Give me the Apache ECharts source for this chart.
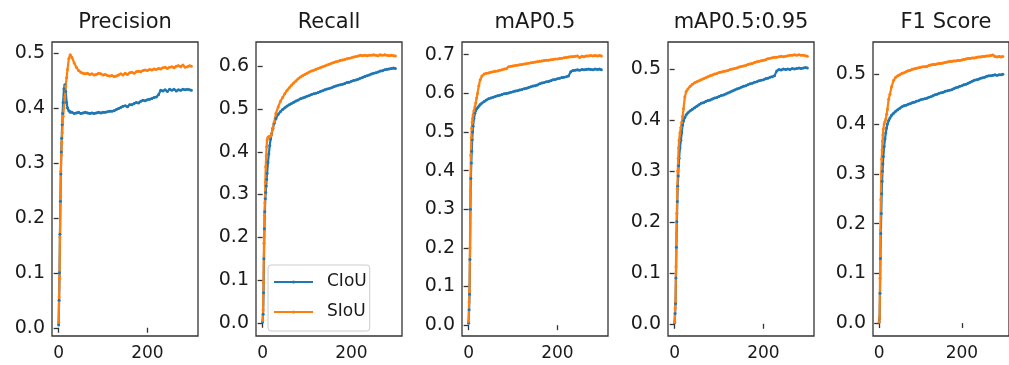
<!DOCTYPE html>
<html>
<head>
<meta charset="utf-8">
<script src="https://cdn.jsdelivr.net/npm/echarts@6/dist/echarts.min.js"></script>
<style>
html,body{margin:0;padding:0;background:#fff;}
#chart{width:1009px;height:365px;}
</style>
</head>
<body>
<div id="chart"></div>
<script>
// ---------- DATA ----------
const epochs = [0,1,2,3,4,5,6,7,8,9,10,
  12,14,16,18,20,23,26,
  30,35,40,45,50,55,60,65,70,75,
  80,85,90,95,100,105,110,115,120,125,
  130,135,140,145,150,155,160,165,170,175,
  180,185,190,195,200,205,210,215,220,225,
  230,235,240,245,250,255,260,265,270,275,
  280,285,290,295,299];

const titles = ['Precision','Recall','mAP0.5','mAP0.5:0.95','F1 Score'];
const seriesNames = ['CIoU','SIoU'];

const precisionCIoU = [0.005,0.05,0.10,0.17,0.23,0.28,0.32,0.345,0.37,0.39,0.41,
  0.435,0.442,0.43,0.41,0.40,0.395,0.392,
  0.392,0.390,0.391,0.392,0.390,0.391,0.392,0.391,0.390,0.391,
  0.390,0.391,0.392,0.391,0.392,0.392,0.393,0.394,0.394,0.395,
  0.397,0.399,0.401,0.403,0.404,0.402,0.406,0.406,0.408,0.410,
  0.409,0.412,0.414,0.413,0.415,0.416,0.417,0.419,0.420,0.424,
  0.432,0.431,0.433,0.430,0.434,0.432,0.434,0.431,0.433,0.432,
  0.434,0.433,0.434,0.433,0.432];
const precisionSIoU = [0.01,0.056,0.09,0.165,0.24,0.285,0.315,0.336,0.355,0.373,0.385,
  0.40,0.42,0.44,0.455,0.47,0.49,0.497,
  0.492,0.482,0.474,0.468,0.465,0.463,0.462,0.463,0.461,0.462,
  0.460,0.461,0.463,0.462,0.460,0.461,0.459,0.458,0.459,0.457,
  0.458,0.460,0.462,0.460,0.463,0.461,0.464,0.465,0.463,0.466,
  0.467,0.466,0.468,0.469,0.468,0.470,0.469,0.471,0.470,0.472,
  0.471,0.473,0.474,0.472,0.474,0.475,0.473,0.476,0.477,0.475,
  0.478,0.474,0.475,0.477,0.476];

const recallCIoU = [0.002,0.02,0.07,0.15,0.22,0.26,0.29,0.305,0.32,0.335,0.35,
  0.375,0.395,0.415,0.43,0.44,0.455,0.467,
  0.478,0.488,0.494,0.499,0.503,0.507,0.51,0.513,0.516,0.519,
  0.521,0.524,0.526,0.528,0.53,0.532,0.534,0.536,0.537,0.539,
  0.541,0.543,0.545,0.547,0.548,0.55,0.552,0.554,0.556,0.557,
  0.558,0.56,0.562,0.563,0.565,0.567,0.568,0.57,0.572,0.574,
  0.576,0.578,0.58,0.582,0.584,0.585,0.587,0.589,0.59,0.592,
  0.593,0.594,0.595,0.596,0.595];
const recallSIoU = [0.005,0.03,0.094,0.186,0.252,0.28,0.33,0.365,0.39,0.412,0.428,
  0.434,0.436,0.435,0.437,0.44,0.455,0.47,
  0.49,0.505,0.518,0.527,0.536,0.544,0.55,0.556,0.561,0.566,
  0.571,0.575,0.578,0.581,0.584,0.587,0.589,0.591,0.593,0.595,
  0.597,0.599,0.601,0.603,0.605,0.607,0.609,0.611,0.612,0.614,
  0.615,0.616,0.618,0.619,0.62,0.622,0.623,0.624,0.626,0.625,
  0.626,0.625,0.626,0.626,0.627,0.626,0.625,0.627,0.626,0.627,
  0.626,0.625,0.626,0.625,0.624];

const map50CIoU = [0.005,0.04,0.08,0.17,0.3,0.38,0.42,0.45,0.48,0.5,0.515,
  0.535,0.548,0.555,0.56,0.563,0.567,0.571,
  0.575,0.579,0.583,0.586,0.588,0.59,0.592,0.594,0.595,0.597,
  0.599,0.6,0.601,0.603,0.604,0.606,0.607,0.609,0.61,0.612,
  0.613,0.615,0.617,0.619,0.62,0.622,0.625,0.627,0.628,0.63,
  0.631,0.633,0.635,0.636,0.638,0.639,0.641,0.642,0.643,0.645,
  0.656,0.659,0.66,0.661,0.66,0.662,0.661,0.662,0.663,0.662,
  0.661,0.663,0.662,0.663,0.661];
const map50SIoU = [0.01,0.06,0.09,0.2,0.35,0.44,0.485,0.51,0.525,0.535,0.545,
  0.555,0.565,0.575,0.588,0.6,0.62,0.635,
  0.645,0.65,0.652,0.653,0.655,0.656,0.657,0.658,0.66,0.661,
  0.663,0.664,0.669,0.67,0.671,0.672,0.673,0.674,0.675,0.676,
  0.677,0.678,0.679,0.68,0.681,0.682,0.683,0.684,0.685,0.686,
  0.686,0.687,0.688,0.689,0.689,0.69,0.691,0.692,0.693,0.694,
  0.695,0.695,0.696,0.697,0.693,0.696,0.695,0.697,0.697,0.698,
  0.697,0.698,0.697,0.698,0.697];

const map5095CIoU = [0.002,0.02,0.04,0.09,0.15,0.2,0.24,0.27,0.29,0.31,0.325,
  0.345,0.36,0.375,0.39,0.398,0.405,0.41,
  0.414,0.418,0.421,0.424,0.427,0.43,0.433,0.434,0.436,0.438,
  0.439,0.441,0.443,0.444,0.446,0.448,0.449,0.451,0.453,0.455,
  0.457,0.459,0.461,0.462,0.464,0.466,0.467,0.469,0.471,0.472,
  0.474,0.475,0.477,0.478,0.479,0.481,0.482,0.484,0.485,0.487,
  0.496,0.499,0.498,0.5,0.499,0.5,0.499,0.501,0.5,0.501,
  0.502,0.501,0.502,0.503,0.502];
const map5095SIoU = [0.003,0.03,0.044,0.112,0.178,0.217,0.266,0.3,0.325,0.345,0.36,
  0.375,0.385,0.395,0.407,0.422,0.445,0.456,
  0.461,0.466,0.47,0.473,0.475,0.477,0.479,0.481,0.483,0.485,
  0.487,0.488,0.49,0.491,0.493,0.494,0.495,0.496,0.497,0.499,
  0.5,0.501,0.502,0.504,0.505,0.506,0.507,0.509,0.51,0.511,
  0.513,0.514,0.515,0.516,0.517,0.518,0.52,0.521,0.522,0.523,
  0.523,0.524,0.525,0.524,0.525,0.526,0.527,0.527,0.528,0.527,
  0.528,0.527,0.527,0.526,0.525];

const f1CIoU = [0.002,0.01,0.06,0.13,0.18,0.22,0.26,0.285,0.305,0.32,0.335,
  0.355,0.37,0.382,0.392,0.4,0.407,0.412,
  0.418,0.422,0.426,0.429,0.432,0.435,0.437,0.438,0.44,0.441,
  0.443,0.444,0.446,0.447,0.449,0.45,0.451,0.452,0.454,0.455,
  0.457,0.459,0.46,0.462,0.463,0.464,0.466,0.467,0.468,0.469,
  0.471,0.473,0.474,0.476,0.477,0.479,0.48,0.482,0.484,0.486,
  0.488,0.489,0.49,0.492,0.493,0.494,0.496,0.497,0.497,0.498,
  0.499,0.498,0.499,0.499,0.5];
const f1SIoU = [0.002,0.01,0.09,0.187,0.248,0.3,0.33,0.348,0.365,0.378,0.39,
  0.4,0.405,0.41,0.42,0.43,0.45,0.46,
  0.475,0.488,0.494,0.497,0.499,0.502,0.503,0.505,0.507,0.508,
  0.51,0.511,0.512,0.513,0.514,0.515,0.515,0.516,0.518,0.519,
  0.52,0.52,0.521,0.522,0.522,0.523,0.524,0.525,0.526,0.526,
  0.527,0.527,0.528,0.528,0.529,0.53,0.531,0.532,0.532,0.533,
  0.533,0.534,0.535,0.535,0.536,0.536,0.537,0.537,0.538,0.539,
  0.536,0.535,0.536,0.535,0.536];

const xTicks = [0, 200];
const yTicks1 = [0, 0.1, 0.2, 0.3, 0.4, 0.5];
const yTicks2 = [0, 0.1, 0.2, 0.3, 0.4, 0.5, 0.6];
const yTicks3 = [0, 0.1, 0.2, 0.3, 0.4, 0.5, 0.6, 0.7];
const yTicks4 = [0, 0.1, 0.2, 0.3, 0.4, 0.5];
const yTicks5 = [0, 0.1, 0.2, 0.3, 0.4, 0.5];

// ---------- LAYOUT / STYLE ----------
const panels = [
  {ciou: precisionCIoU, siou: precisionSIoU, yTicks: yTicks1, yMin: -0.015, yMax: 0.52},
  {ciou: recallCIoU, siou: recallSIoU, yTicks: yTicks2, yMin: -0.031, yMax: 0.657},
  {ciou: map50CIoU, siou: map50SIoU, yTicks: yTicks3, yMin: -0.028, yMax: 0.733},
  {ciou: map5095CIoU, siou: map5095SIoU, yTicks: yTicks4, yMin: -0.024, yMax: 0.553},
  {ciou: f1CIoU, siou: f1SIoU, yTicks: yTicks5, yMin: -0.026, yMax: 0.565}
];
const lefts = [52, 256, 462, 668, 873];
const W = 146, TOP = 42, H = 294;
const colors = ['#1f77b4', '#ff7f0e'];
const FONT = 'DejaVu Sans';
const axisColor = '#333';
const textColor = '#1a1a1a';

const grids = [], xAxes = [], yAxes = [], series = [], titleArr = [];
panels.forEach((p, i) => {
  grids.push({left: lefts[i], top: TOP, width: W, height: H, show: true,
    borderColor: axisColor, borderWidth: 1.3, backgroundColor: 'transparent'});
  titleArr.push({text: titles[i], left: lefts[i] + W / 2, top: 12, textAlign: 'center', padding: 0,
    textStyle: {fontFamily: FONT, fontSize: 21, fontWeight: 'normal', color: textColor}});
  xAxes.push({type: 'value', gridIndex: i, min: -14.95, max: 313.95,
    splitLine: {show: false}, axisLine: {show: false},
    axisTick: {show: true, inside: false, length: 5, customValues: xTicks, lineStyle: {color: axisColor, width: 1.3}},
    axisLabel: {customValues: xTicks, margin: 9, fontFamily: FONT, fontSize: 17, color: textColor,
      formatter: v => String(Math.round(v))}});
  yAxes.push({type: 'value', gridIndex: i, min: p.yMin, max: p.yMax,
    splitLine: {show: false}, axisLine: {show: false},
    axisTick: {show: true, inside: false, length: 5, customValues: p.yTicks, lineStyle: {color: axisColor, width: 1.3}},
    axisLabel: {customValues: p.yTicks, margin: 7, fontFamily: FONT, fontSize: 19, color: textColor,
      formatter: v => v.toFixed(1)}});
  [p.ciou, p.siou].forEach((arr, k) => {
    series.push({
      name: seriesNames[k], type: 'line', xAxisIndex: i, yAxisIndex: i,
      data: epochs.map((e, j) => [e, arr[j]]),
      symbol: 'circle', symbolSize: 3, showSymbol: true, showAllSymbol: true,
      lineStyle: {width: 2.2, color: colors[k]},
      itemStyle: {color: colors[k]},
      emphasis: {disabled: true},
      animation: false
    });
  });
});

const chart = echarts.init(document.getElementById('chart'), null, {renderer: 'canvas'});
chart.setOption({
  backgroundColor: '#fff',
  animation: false,
  title: titleArr,
  legend: {
    data: seriesNames, orient: 'vertical', left: 268, top: 265,
    padding: [7, 3, 9, 5], itemGap: 10, itemWidth: 39, itemHeight: 4,
    backgroundColor: '#fff', borderColor: '#ccc', borderWidth: 1, borderRadius: 3,
    textStyle: {fontFamily: FONT, fontSize: 17, color: textColor, lineHeight: 20, padding: [0, 0, 0, 9]}
  },
  grid: grids, xAxis: xAxes, yAxis: yAxes, series: series
});
</script>
</body>
</html>
